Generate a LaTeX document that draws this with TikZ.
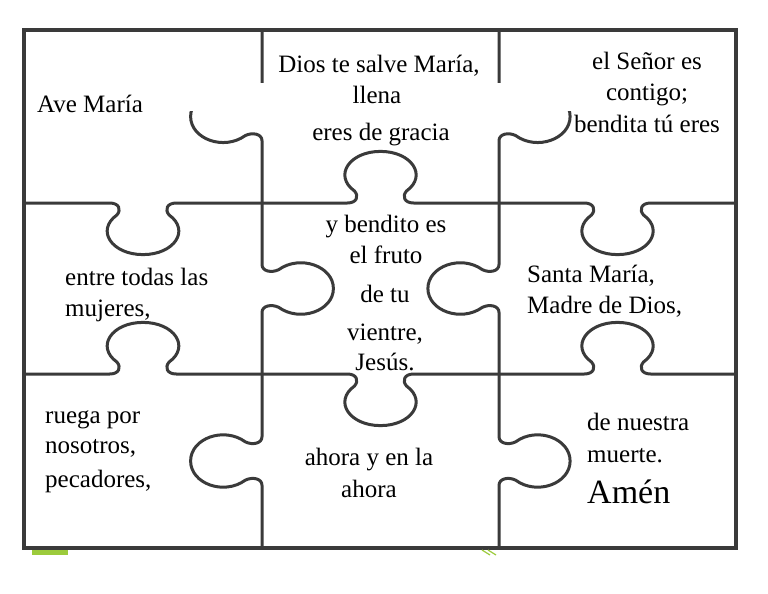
\documentclass[tikz,border=0pt]{standalone}
\usepackage{fontspec}
\setmainfont{Liberation Serif}
\definecolor{linegray}{HTML}{3A3A3A}
\definecolor{markgreen}{HTML}{9CCB3C}
\newcommand\puzzleknob[4]{%
  \draw[edge,shift={(#1,#2)},x={(#3)},y={(#4)}]
    (0,0) -- (0.36,0)
    .. controls (0.40,0) and (0.41,0.04) .. (0.39,0.07)
    .. controls (0.30,0.16) and (0.37,0.30) .. (0.5,0.30)
    .. controls (0.63,0.30) and (0.70,0.16) .. (0.61,0.07)
    .. controls (0.59,0.04) and (0.60,0) .. (0.64,0)
    -- (1,0);}
\begin{document}
\begin{tikzpicture}[x=1pt,y=-1pt,
  edge/.style={draw=linegray, line width=3pt, line join=round, line cap=round},
  framebox/.style={draw=linegray, line width=3.4pt},
  txt/.style={inner sep=0pt, font=\fontsize{25}{30}\selectfont, text=black},
  bigtxt/.style={inner sep=0pt, font=\fontsize{34}{40}\selectfont, text=black},
]
\useasboundingbox (0,0) rectangle (768,594);
\fill[white] (0,0) rectangle (768,594);

% vertical edges
\puzzleknob{262}{30}{0pt,-173pt}{-238pt,0pt}
\puzzleknob{262}{203}{0pt,-171pt}{238pt,0pt}
\puzzleknob{262}{374}{0pt,-174pt}{-238pt,0pt}
\puzzleknob{499}{30}{0pt,-173pt}{237pt,0pt}
\puzzleknob{499}{203}{0pt,-171pt}{-237pt,0pt}
\puzzleknob{499}{374}{0pt,-174pt}{237pt,0pt}
% horizontal edges
\puzzleknob{24}{203}{238pt,0pt}{0pt,-172pt}
\puzzleknob{262}{203}{237pt,0pt}{0pt,172pt}
\puzzleknob{499}{203}{237pt,0pt}{0pt,-172pt}
\puzzleknob{24}{374}{238pt,0pt}{0pt,172pt}
\puzzleknob{262}{374}{237pt,0pt}{0pt,-172pt}
\puzzleknob{499}{374}{237pt,0pt}{0pt,172pt}

% outer frame
\draw[framebox] (24,30) rectangle (736,548);

% white text box hiding part of the top row
\fill[white] (180,83) rectangle (580,111);

% green marks
\fill[markgreen] (32,550) rectangle (68,555);
\draw[markgreen, line width=1.2pt] (482,550) -- (490,555) (488,550) -- (496,555);

% texts
\node[txt, anchor=base west] (t1) at (37,112) {Ave María};
\node[txt, anchor=base] (t2) at (379,72) {Dios te salve María,};
\node[txt, anchor=base] (t3) at (377,103) {llena};
\node[txt, anchor=base] (t4) at (381,140) {eres de gracia};
\node[txt, anchor=base] (t5) at (647,70) {el Señor es};
\node[txt, anchor=base] (t6) at (647,100) {contigo;};
\node[txt, anchor=base] (t7) at (647,132) {bendita tú eres};
\node[txt, anchor=base west] (t8) at (65,285) {entre todas las};
\node[txt, anchor=base west] (t9) at (65,316) {mujeres,};
\node[txt, anchor=base] (t10) at (386,232) {y bendito es};
\node[txt, anchor=base] (t11) at (386,263) {el fruto};
\node[txt, anchor=base] (t12) at (385,302) {de tu};
\node[txt, anchor=base] (t13) at (385,340) {vientre,};
\node[txt, anchor=base] (t14) at (385,370) {Jesús.};
\node[txt, anchor=base west] (t15) at (527,282) {Santa María,};
\node[txt, anchor=base west] (t16) at (527,313) {Madre de Dios,};
\node[txt, anchor=base west] (t17) at (45,423) {ruega por};
\node[txt, anchor=base west] (t18) at (45,453) {nosotros,};
\node[txt, anchor=base west] (t19) at (45,487) {pecadores,};
\node[txt, anchor=base] (t20) at (369,465) {ahora y en la};
\node[txt, anchor=base] (t21) at (369,497) {ahora};
\node[txt, anchor=base west] (t22) at (587,430) {de nuestra};
\node[txt, anchor=base west] (t23) at (587,462) {muerte.};
\node[bigtxt, anchor=base west] (t24) at (587,503) {Amén};
\end{tikzpicture}
\end{document}
